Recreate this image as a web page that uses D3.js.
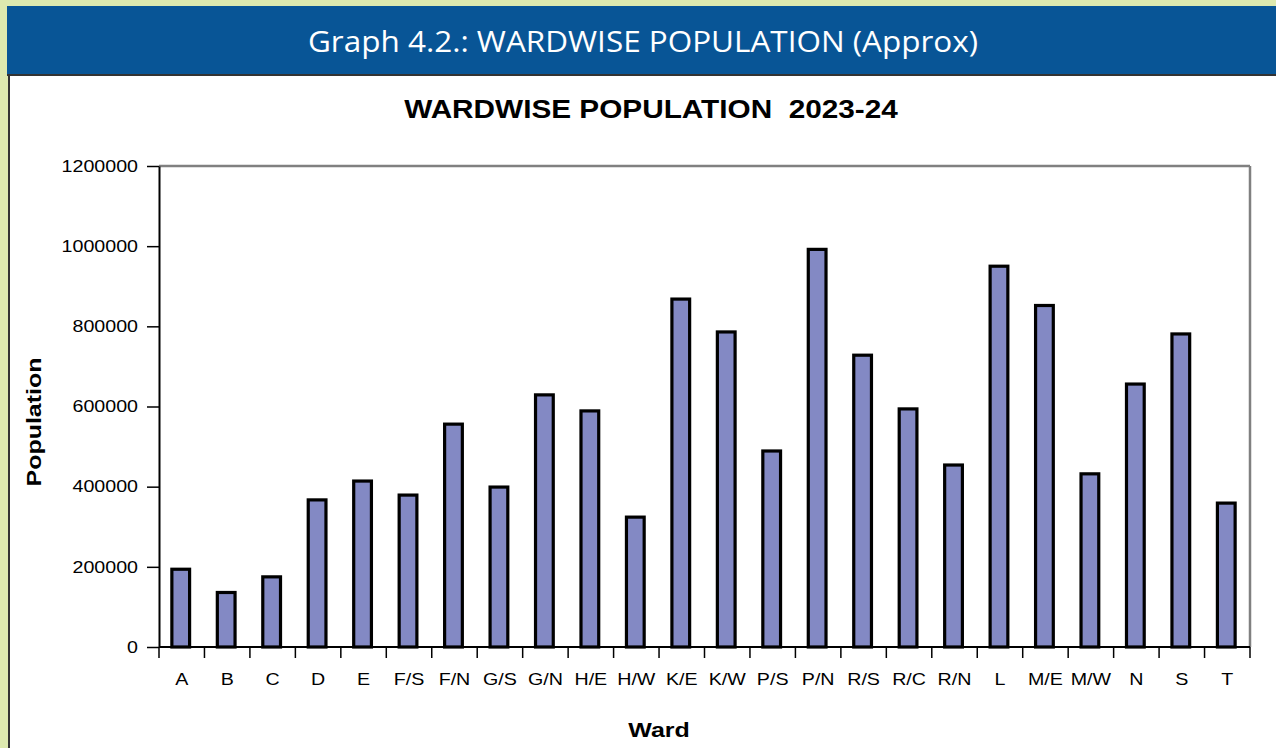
<!DOCTYPE html>
<html>
<head>
<meta charset="utf-8">
<script src="https://cdn.jsdelivr.net/npm/d3@7"></script>
<style>
  html, body { margin: 0; padding: 0; background: #dde9af; }
  svg { display: block; }
  text { white-space: pre; }
</style>
</head>
<body>
<div id="viz"></div>
<script>
// ward names and population
var wards = ["A","B","C","D","E","F/S","F/N","G/S","G/N","H/E","H/W","K/E","K/W","P/S","P/N","R/S","R/C","R/N","L","M/E","M/W","N","S","T"];
var population = [194000,136000,175000,367000,414000,379000,556000,399000,629000,589000,324000,868000,786000,489000,992000,728000,594000,454000,950000,852000,432000,656000,781000,359000];
var yTicks = [0,200000,400000,600000,800000,1000000,1200000];

var W = 1276, H = 748;
var stretch = 1.19; // text in the original is a bit wide

var svg = d3.select("#viz").append("svg")
    .attr("width", W)
    .attr("height", H);

// page background
svg.append("rect").attr("width", W).attr("height", H).attr("fill", "#dde9af");

// header band
svg.append("rect")
    .attr("x", 7).attr("y", 6)
    .attr("width", W - 7).attr("height", 68)
    .attr("fill", "#085596");

// white panel
svg.append("rect")
    .attr("x", 8).attr("y", 74)
    .attr("width", W - 8).attr("height", H - 74)
    .attr("fill", "#fff");
svg.append("line")
    .attr("x1", 7).attr("x2", W).attr("y1", 75).attr("y2", 75)
    .attr("stroke", "#333").attr("stroke-width", 2);
svg.append("line")
    .attr("x1", 9).attr("x2", 9).attr("y1", 74).attr("y2", H)
    .attr("stroke", "#333").attr("stroke-width", 2);

svg.append("text")
    .attr("x", 308).attr("y", 52)
    .attr("textLength", 670)
    .attr("lengthAdjust", "spacingAndGlyphs")
    .attr("fill", "#fff")
    .style("font-family", "'Open Sans', 'Noto Sans', sans-serif")
    .style("font-size", "29px")
    .text("Graph 4.2.: WARDWISE POPULATION (Approx)");

var margin = {top: 166, left: 159, right: 26, bottom: 101};
var pw = W - margin.left - margin.right,
    ph = H - margin.top - margin.bottom;

var g = svg.append("g")
    .attr("transform", "translate(" + margin.left + "," + margin.top + ")");

var x = d3.scaleBand().domain(wards).range([0, pw]).padding(0);
var y = d3.scaleLinear().domain([0, 1200000]).range([ph, 0]);

// plot frame (top and right in grey)
g.append("line").attr("x1", 0).attr("x2", pw).attr("y1", 0).attr("y2", 0)
    .attr("stroke", "#808080").attr("stroke-width", 2.5);
g.append("line").attr("x1", pw).attr("x2", pw).attr("y1", 0).attr("y2", ph)
    .attr("stroke", "#808080").attr("stroke-width", 2.5);

// bars
var bw = x.bandwidth() * 0.39;
g.selectAll(".bar")
    .data(population)
  .enter().append("rect")
    .attr("class", "bar")
    .attr("x", function(d, i) { return x(wards[i]) + x.bandwidth() / 2 - bw / 2 - 1; })
    .attr("y", function(d) { return y(d); })
    .attr("width", bw)
    .attr("height", function(d) { return ph - y(d); })
    .attr("fill", "#8389c4")
    .attr("stroke", "#000")
    .attr("stroke-width", 3.2);

// y axis
var yAxis = g.append("g")
    .call(d3.axisLeft(y).tickValues(yTicks).tickSize(12).tickSizeOuter(0).tickFormat(d3.format("d")));
yAxis.select(".domain").attr("stroke", "#000").attr("stroke-width", 2);
yAxis.selectAll(".tick line").attr("stroke", "#000").attr("stroke-width", 1.5);
yAxis.selectAll(".tick text")
    .attr("x", -21 / stretch)
    .attr("transform", "scale(" + stretch + ",1)")
    .attr("fill", "#000")
    .style("font-family", "'Liberation Sans', Arial, sans-serif")
    .style("font-size", "16.5px");

// x axis: labels centred, ticks at band edges
var xAxis = g.append("g")
    .attr("transform", "translate(0," + ph + ")")
    .call(d3.axisBottom(x).tickSize(0).tickPadding(26));
xAxis.select(".domain").remove();
xAxis.selectAll(".tick text")
    .attr("transform", "scale(" + stretch + ",1)")
    .attr("fill", "#000")
    .style("font-family", "'Liberation Sans', Arial, sans-serif")
    .style("font-size", "16.5px");

g.append("line")
    .attr("x1", 0).attr("x2", pw).attr("y1", ph).attr("y2", ph)
    .attr("stroke", "#000").attr("stroke-width", 2);
g.selectAll(".xedge")
    .data(d3.range(wards.length + 1))
  .enter().append("line")
    .attr("class", "xedge")
    .attr("x1", function(i) { return i * x.step(); })
    .attr("x2", function(i) { return i * x.step(); })
    .attr("y1", ph).attr("y2", ph + 11)
    .attr("stroke", "#000").attr("stroke-width", 1.5);

// titles
function stretchedText(px, py, rot, txt, size) {
  svg.append("text")
      .attr("transform", "translate(" + px + "," + py + ")" + (rot ? " rotate(" + rot + ")" : "") + " scale(" + stretch + ",1)")
      .attr("text-anchor", "middle")
      .attr("fill", "#000")
      .style("font-family", "'Liberation Sans', Arial, sans-serif")
      .style("font-weight", "bold")
      .style("font-size", size + "px")
      .text(txt);
}
stretchedText(651, 118, 0, "WARDWISE POPULATION  2023-24", 25);
stretchedText(659, 737, 0, "Ward", 21);
stretchedText(41, 422, -90, "Population", 21);
</script>
</body>
</html>
